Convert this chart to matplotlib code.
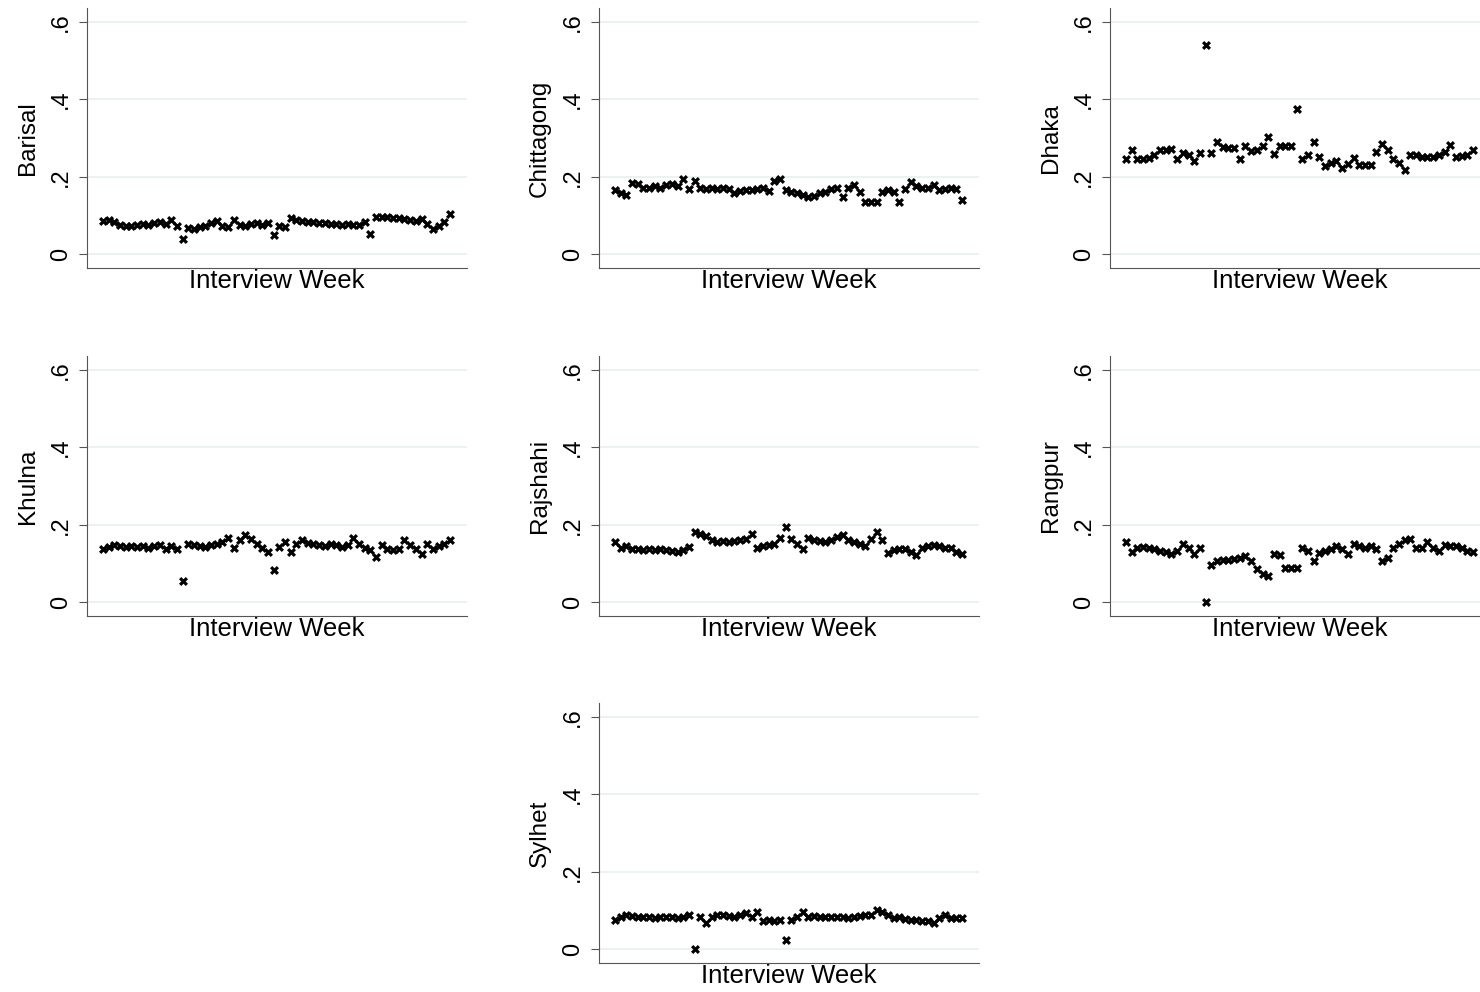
import numpy as np
import matplotlib.pyplot as plt

# weekly share by division
weeks = np.arange(1, 63)

barisal = [.085, .088, .082, .075, .073, .072, .075, .078, .076, .080,
           .083, .078, .088, .072, .040, .068, .065, .070, .072, .080,
           .085, .072, .070, .088, .075, .072, .078, .080, .076, .080,
           .050, .072, .070, .092, .088, .085, .083, .082, .080, .080,
           .078, .077, .075, .078, .076, .074, .084, .052, .095, .097,
           .096, .094, .092, .090, .088, .085, .090, .078, .065, .072,
           .082, .103]

chittagong = [.166, .158, .153, .183, .182, .170, .172, .175, .172, .178,
              .180, .177, .195, .168, .190, .172, .168, .170, .168, .170,
              .168, .158, .163, .165, .165, .168, .172, .162, .188, .195,
              .165, .160, .158, .152, .148, .150, .158, .160, .168, .170,
              .147, .172, .178, .160, .135, .135, .135, .160, .165, .160,
              .135, .168, .185, .175, .170, .172, .178, .165, .168, .170,
              .168, .140]

dhaka = [.245, .270, .245, .245, .248, .255, .268, .270, .272, .246,
         .262, .255, .240, .262, .540, .262, .290, .278, .275, .275,
         .245, .280, .266, .268, .280, .303, .258, .280, .280, .280,
         .375, .246, .255, .290, .250, .227, .235, .240, .223, .234,
         .249, .229, .229, .229, .264, .284, .269, .245, .235, .217,
         .255, .255, .252, .252, .252, .255, .264, .281, .252, .253,
         .255, .269]

khulna = [.136, .143, .148, .145, .143, .145, .142, .145, .140, .145,
          .148, .138, .145, .138, .055, .150, .148, .145, .143, .148,
          .150, .155, .166, .140, .160, .174, .162, .151, .140, .130,
          .083, .143, .156, .130, .151, .160, .152, .150, .148, .145,
          .150, .148, .143, .148, .166, .151, .140, .134, .117, .147,
          .136, .134, .136, .160, .147, .138, .123, .151, .138, .145,
          .151, .160]

rajshahi = [.156, .139, .145, .138, .136, .135, .136, .134, .136, .135,
            .132, .130, .134, .143, .181, .175, .170, .160, .155, .157,
            .156, .158, .160, .162, .177, .139, .145, .147, .150, .166,
            .194, .164, .149, .137, .166, .160, .158, .156, .160, .168,
            .174, .160, .156, .150, .145, .164, .181, .160, .128, .135,
            .137, .136, .130, .121, .139, .145, .148, .145, .140, .139,
            .130, .123]

rangpur = [.154, .130, .140, .142, .140, .136, .133, .130, .124, .132,
           .150, .139, .124, .139, .000, .095, .105, .108, .110, .112,
           .114, .118, .107, .085, .072, .068, .124, .121, .087, .087,
           .089, .141, .133, .107, .128, .133, .137, .145, .138, .124,
           .150, .145, .140, .145, .137, .107, .115, .140, .150, .161,
           .163, .141, .139, .156, .140, .133, .147, .145, .145, .139,
           .133, .130]

sylhet = [.076, .083, .088, .085, .082, .083, .082, .080, .083, .082,
          .083, .080, .082, .088, .000, .084, .068, .083, .087, .088,
          .086, .083, .088, .093, .082, .097, .073, .074, .072, .075,
          .023, .076, .084, .097, .083, .085, .082, .083, .084, .082,
          .083, .080, .083, .085, .087, .088, .100, .097, .088, .080,
          .082, .078, .075, .076, .073, .072, .067, .080, .089, .080,
          .081, .080]

divisions = ["Barisal", "Chittagong", "Dhaka", "Khulna", "Rajshahi", "Rangpur", "Sylhet"]
series = [barisal, chittagong, dhaka, khulna, rajshahi, rangpur, sylhet]
yticks = [0, .2, .4, .6]
ytick_labels = ["0", ".2", ".4", ".6"]

W, H = 1480, 992
fig = plt.figure(figsize=(W / 100, H / 100), dpi=100)
plt.rcParams['font.family'] = ['Liberation Sans', 'DejaVu Sans']

# pixel boxes of the panels (left, bottom of axes)
col_left = [87, 599, 1110]
row_bottom = [268, 616, 963]
grid_pos = [(0, 0), (0, 1), (0, 2), (1, 0), (1, 1), (1, 2), (2, 1)]

for name, vals, (r, c) in zip(divisions, series, grid_pos):
    left = col_left[c] / W
    bottom = 1 - row_bottom[r] / H
    ax = fig.add_axes([left, bottom, 380 / W, 260 / H])
    ax.scatter(weeks, vals, marker='X', s=42, color='black', linewidths=0, zorder=3)
    ax.set_xlim(1 - 2.81, 62 + 2.99)
    ax.set_ylim(-0.036, 0.636)
    ax.set_yticks(yticks)
    ax.set_yticklabels(ytick_labels, rotation=90, va='center', fontsize=17)
    ax.set_xticks([])
    ax.grid(axis='y', color='#eaf2f3', linewidth=1.5, zorder=0)
    ax.spines['top'].set_visible(False)
    ax.spines['right'].set_visible(False)
    ax.spines['left'].set_color('#555555')
    ax.spines['bottom'].set_color('#555555')
    ax.tick_params(axis='y', length=6, color='#555555', pad=5)
    ax.set_xlabel("Interview Week", fontsize=18.5, labelpad=1)
    ax.set_ylabel(name, fontsize=17.5, labelpad=8)

fig.savefig("out.png", dpi=100)
